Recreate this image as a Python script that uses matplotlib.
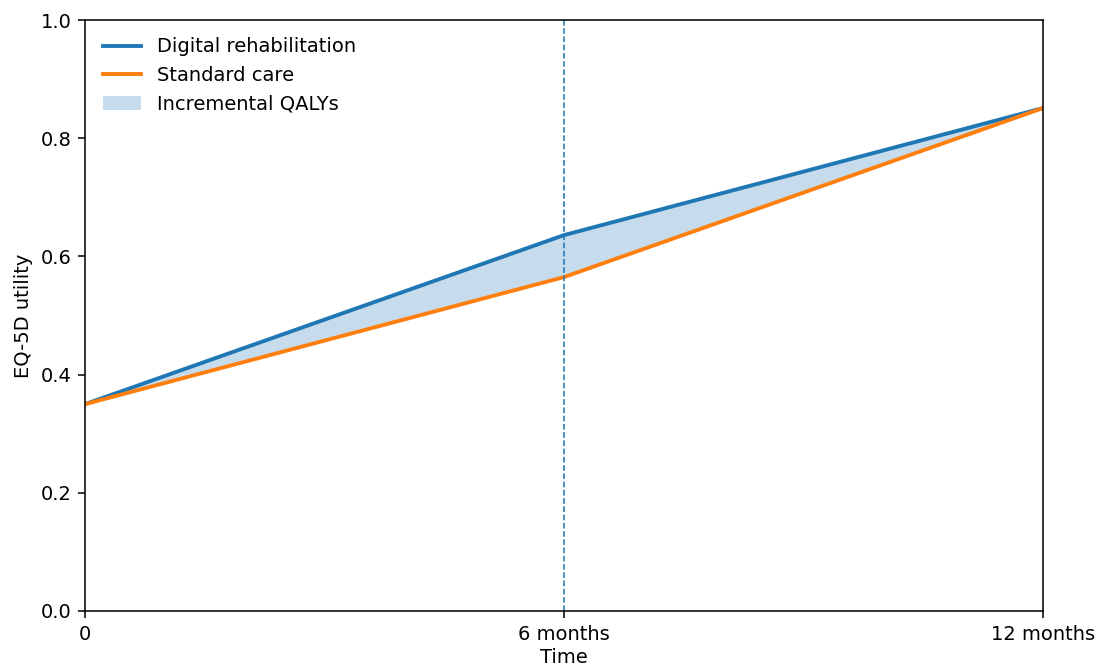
import numpy as np
import matplotlib.pyplot as plt

months = [0, 6, 12]
tick_labels = ["0", "6 months", "12 months"]
digital = [0.35, 0.636, 0.851]
standard = [0.35, 0.565, 0.851]

dpi = 140
fig = plt.figure(figsize=(1099 / dpi, 668 / dpi), dpi=dpi)
ax = fig.add_axes([85 / 1099, 57 / 668, (1043 - 85) / 1099, (611 - 20) / 668])

ax.plot(months, digital, color="#1f77b4", lw=2, label="Digital rehabilitation")
ax.plot(months, standard, color="#ff7f0e", lw=2, label="Standard care")
ax.fill_between(months, standard, digital, color="#1f77b4", alpha=0.25,
                linewidth=0, label="Incremental QALYs")
ax.axvline(6, color="#1f77b4", ls="--", lw=0.8)

ax.set_xlim(0, 12)
ax.set_ylim(0, 1)
ax.set_xticks(months)
ax.set_xticklabels(tick_labels)
ax.set_yticks(np.arange(0, 1.01, 0.2))
ax.set_xlabel("Time", labelpad=2.5)
ax.set_ylabel("EQ-5D utility")
ax.legend(loc="upper left", frameon=False)

fig.savefig("out.png", dpi=dpi)
